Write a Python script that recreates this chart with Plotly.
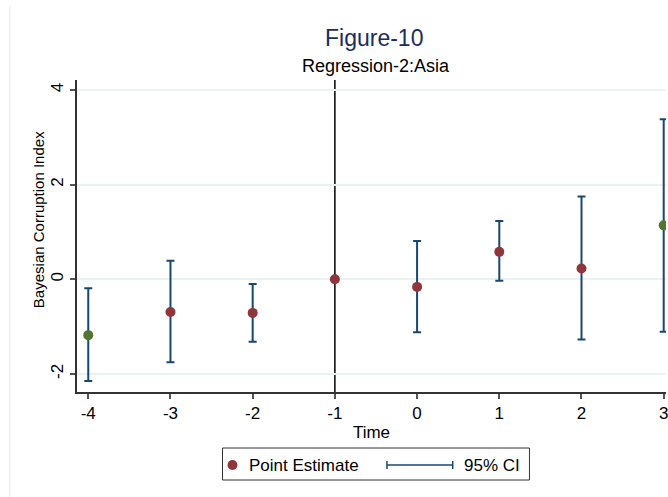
import plotly.graph_objects as go

# Event-time coefficients with 95% confidence intervals
time = [-4, -3, -2, -1, 0, 1, 2, 3]
estimate = [-1.18, -0.69, -0.71, 0.0, -0.16, 0.58, 0.23, 1.14]
ci_low = [-2.15, -1.75, -1.32, 0.0, -1.12, -0.03, -1.27, -1.11]
ci_high = [-0.19, 0.39, -0.10, 0.0, 0.81, 1.23, 1.75, 3.38]
y_ticks = [-2, 0, 2, 4]

title_text = "Figure-10"
subtitle_text = "Regression-2:Asia"
x_title = "Time"
y_title = "Bayesian Corruption Index"
legend_labels = ["Point Estimate", "95% CI"]

W, H = 668, 497
L, R, T, B = 77, 0, 80, 105
PW, PH = W - L - R, H - T - B

MAROON = "#90353B"
GREEN = "#55752F"
NAVY = "#1A476F"
FONT = "Liberation Sans, Arial, Helvetica, sans-serif"


def px(x):
    return (x - L) / PW


def py(y):
    return (H - B - y) / PH


# first and last leads/lags are binned endpoints, shown in green
colors = [GREEN if i in (0, len(time) - 1) else MAROON for i in range(len(time))]

fig = go.Figure()
fig.add_trace(go.Scatter(
    x=time, y=estimate, mode="markers",
    marker=dict(color=colors, size=10, line=dict(width=0)),
    error_y=dict(type="data", symmetric=False,
                 array=[h - e for h, e in zip(ci_high, estimate)],
                 arrayminus=[e - l for e, l in zip(estimate, ci_low)],
                 color=NAVY, thickness=2, width=4),
    showlegend=False,
))

shapes = [
    # reference lines
    dict(type="line", xref="paper", yref="y", x0=0, x1=1, y0=0, y1=0,
         line=dict(color="#FF0000", width=1.5), layer="below"),
    dict(type="line", xref="x", yref="paper", x0=-1, x1=-1, y0=0, y1=1,
         line=dict(color="#000000", width=1.5), layer="below"),
    # outer frame edge
    dict(type="line", xref="paper", yref="paper", x0=px(9.5), x1=px(9.5),
         y0=py(6), y1=py(497), line=dict(color="#E4ECEF", width=1)),
    # legend box
    dict(type="rect", xref="paper", yref="paper", x0=px(223), x1=px(531),
         y0=py(448), y1=py(480), line=dict(color="#333333", width=1),
         fillcolor="white"),
    dict(type="circle", xref="paper", yref="paper", x0=px(228), x1=px(238),
         y0=py(460), y1=py(470), line=dict(width=0), fillcolor=MAROON),
    dict(type="line", xref="paper", yref="paper", x0=px(388), x1=px(454),
         y0=py(465), y1=py(465), line=dict(color=NAVY, width=1.5)),
    dict(type="line", xref="paper", yref="paper", x0=px(388), x1=px(388),
         y0=py(461), y1=py(469), line=dict(color=NAVY, width=1.5)),
    dict(type="line", xref="paper", yref="paper", x0=px(454), x1=px(454),
         y0=py(461), y1=py(469), line=dict(color=NAVY, width=1.5)),
]

annotations = [
    dict(text=title_text, xref="paper", yref="paper", x=px(375), y=py(38),
         xanchor="center", yanchor="middle", showarrow=False,
         font=dict(family=FONT, size=23, color="#1C2D5C")),
    dict(text=subtitle_text, xref="paper", yref="paper", x=px(377), y=py(66),
         xanchor="center", yanchor="middle", showarrow=False,
         font=dict(family=FONT, size=18, color="#000000")),
    dict(text=y_title, xref="paper", yref="paper", x=px(38), y=py(220),
         xanchor="center", yanchor="middle", textangle=-90, showarrow=False,
         font=dict(family=FONT, size=15, color="#000000")),
    dict(text=legend_labels[0], xref="paper", yref="paper", x=px(248), y=py(465),
         xanchor="left", yanchor="middle", showarrow=False,
         font=dict(family=FONT, size=17, color="#000000")),
    dict(text=legend_labels[1], xref="paper", yref="paper", x=px(463), y=py(465),
         xanchor="left", yanchor="middle", showarrow=False,
         font=dict(family=FONT, size=17, color="#000000")),
]

fig.update_layout(
    width=W, height=H,
    margin=dict(l=L, r=R, t=T, b=B, pad=0),
    paper_bgcolor="white", plot_bgcolor="white",
    font=dict(family=FONT, size=17, color="#000000"),
    shapes=shapes, annotations=annotations,
    showlegend=False,
)
fig.update_xaxes(
    range=[-4.137, 3.028], tickvals=time, ticktext=[str(t) for t in time],
    showgrid=False, zeroline=False,
    showline=True, linecolor="#333333", linewidth=1.5,
    ticks="outside", ticklen=5, tickcolor="#555555", tickwidth=1.5,
    tickfont=dict(size=17), ticklabeloverflow="allow",
    title=dict(text=x_title, font=dict(size=17), standoff=4),
)
fig.update_yaxes(
    range=[-2.381, 4.211], tickvals=y_ticks, ticktext=[str(t) for t in y_ticks],
    showgrid=True, gridcolor="#EAF2F3", gridwidth=1.5, zeroline=False,
    showline=True, linecolor="#333333", linewidth=1.5,
    ticks="outside", ticklen=5, tickcolor="#555555", tickwidth=1.5,
    tickangle=-90, tickfont=dict(size=17),
)

fig.write_html("out.html")
